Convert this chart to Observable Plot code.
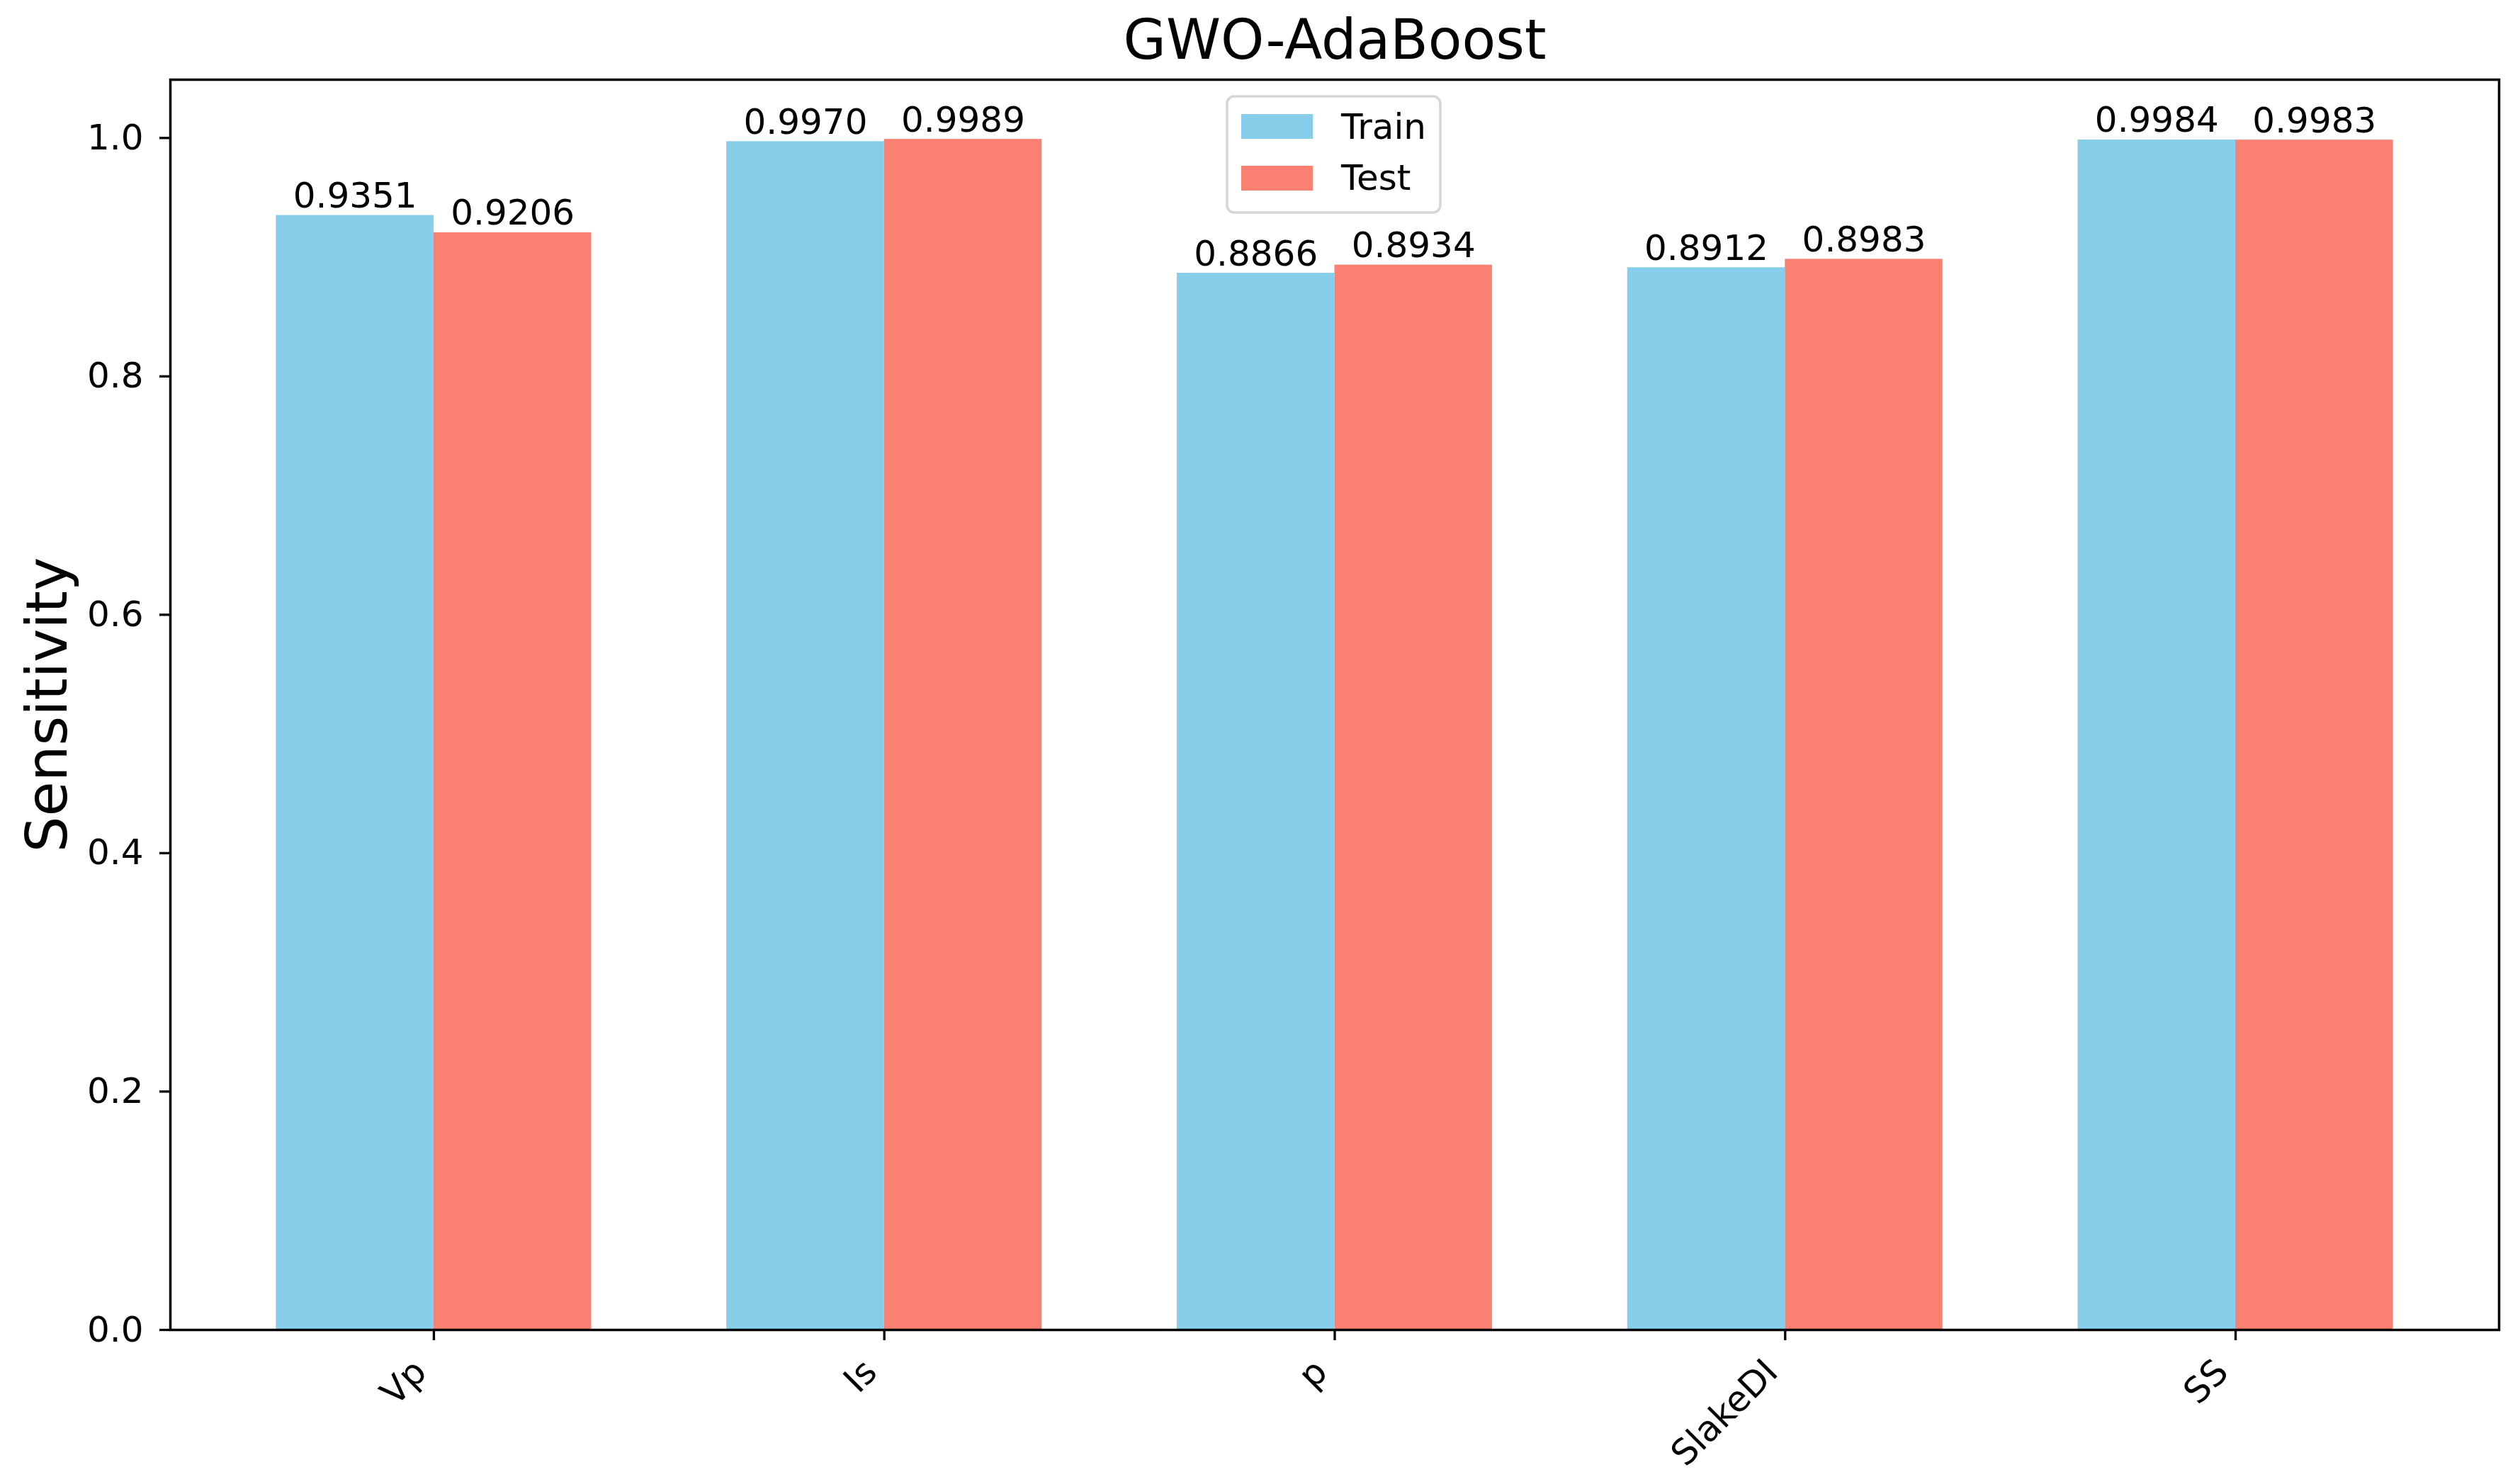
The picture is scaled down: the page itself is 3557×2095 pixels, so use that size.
<!DOCTYPE html>
<html>
<head>
<meta charset="utf-8">
<script src="https://cdn.jsdelivr.net/npm/d3@7"></script>
<script src="https://cdn.jsdelivr.net/npm/@observablehq/plot@0.6"></script>
<style>
  html, body { margin: 0; padding: 0; background: white; }
  #chart { position: relative; width: 3557px; height: 2095px; }
</style>
</head>
<body>
<div id="chart"></div>
<script>
// ---- data ----
const title = "GWO-AdaBoost";
const yLabel = "Sensitivity";
const categories = ["Vp", "Is", "p", "SlakeDI", "SS"];
const seriesNames = ["Train", "Test"];
const trainValues = [0.9351, 0.9970, 0.8866, 0.8912, 0.9984];
const testValues  = [0.9206, 0.9989, 0.8934, 0.8983, 0.9983];
const yTicks = [0.0, 0.2, 0.4, 0.6, 0.8, 1.0];
const seriesColors = ["#87CEEB", "#FA8072"];

// ---- build table ----
const barWidth = 0.35;
const rows = categories.flatMap((cat, i) => [
  {cat, i, series: "Train", value: trainValues[i], off: -barWidth / 2},
  {cat, i, series: "Test", value: testValues[i], off: barWidth / 2}
]);
const idx = categories.map((_, i) => i);

const W = 3557, H = 2095;
const font = "DejaVu Sans";

const plot = Plot.plot({
  width: W,
  height: H,
  marginLeft: 240,
  marginRight: 30,
  marginTop: 112,
  marginBottom: 218,
  style: {fontFamily: font, fontSize: "50px", background: "white", color: "black"},
  x: {domain: [-0.585, 4.585], axis: null},
  y: {domain: [0, 1.0489], axis: null},
  color: {domain: seriesNames, range: seriesColors},
  marks: [
    Plot.rectY(rows, {
      x1: d => d.i + d.off - barWidth / 2,
      x2: d => d.i + d.off + barWidth / 2,
      y1: 0,
      y2: "value",
      fill: "series"
    }),
    Plot.text(rows, {
      x: d => d.i + d.off,
      y: "value",
      text: d => d.value.toFixed(4),
      lineAnchor: "bottom",
      dy: -11,
      fontSize: 50,
      fill: "black"
    }),
    Plot.axisY({
      ticks: yTicks,
      tickFormat: d3.format(".1f"),
      tickSize: 15,
      tickPadding: 23,
      strokeWidth: 3.3,
      fontSize: 50,
      label: null
    }),
    Plot.axisX({
      ticks: idx,
      tickSize: 15,
      strokeWidth: 3.3,
      tickFormat: () => "",
      label: null
    }),
    Plot.text(categories, {
      x: (d, i) => i,
      frameAnchor: "bottom",
      text: d => d,
      rotate: -45,
      textAnchor: "end",
      lineAnchor: "middle",
      dx: -19,
      dy: 51,
      fontSize: 50,
      fill: "black"
    }),
    Plot.text([yLabel], {
      frameAnchor: "left",
      text: d => d,
      rotate: -90,
      textAnchor: "middle",
      lineAnchor: "bottom",
      dx: -147,
      fontSize: 80,
      fill: "black"
    }),
    Plot.text([title], {
      frameAnchor: "top",
      text: d => d,
      lineAnchor: "bottom",
      dy: -30,
      fontSize: 78,
      fill: "black"
    }),
    Plot.frame({stroke: "black", strokeWidth: 3.5})
  ]
});

document.getElementById("chart").appendChild(plot);

// ---- legend (upper center, matplotlib style) ----
const svg = d3.select(plot);
const lg = svg.append("g").attr("transform", "translate(1732,136)");
lg.append("rect")
  .attr("x", 0).attr("y", 0).attr("width", 301).attr("height", 164)
  .attr("rx", 10).attr("ry", 10)
  .attr("fill", "white").attr("fill-opacity", 0.8)
  .attr("stroke", "#d6d6d6").attr("stroke-width", 3.5);
seriesNames.forEach((name, k) => {
  lg.append("rect")
    .attr("x", 20).attr("y", 25 + k * 73)
    .attr("width", 101).attr("height", 35)
    .attr("fill", seriesColors[k]);
  lg.append("text")
    .attr("x", 161).attr("y", 60 + k * 72)
    .attr("text-anchor", "start")
    .attr("font-family", font).attr("font-size", 50)
    .attr("fill", "black")
    .text(name);
});
</script>
</body>
</html>
